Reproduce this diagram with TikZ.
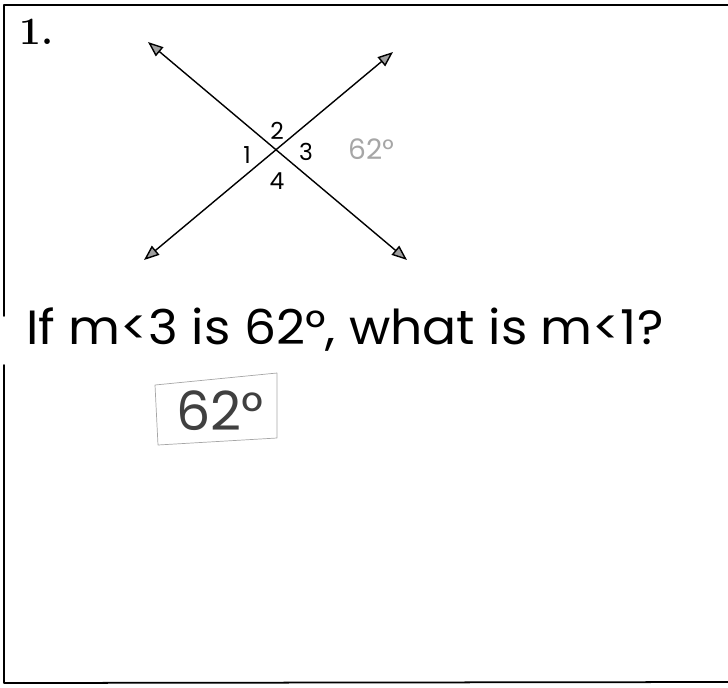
\documentclass[tikz,border=0pt]{standalone}
\usepackage{fontspec}
\newfontfamily\handfont{Poppins}
\usetikzlibrary{arrows.meta}
\begin{document}
\begin{tikzpicture}[x=0.03cm,y=-0.03cm,line cap=round,line join=round,
  rayline/.style={line width=1.2pt,{Triangle[length=13pt,width=10pt,fill=gray!75]}-{Triangle[length=13pt,width=10pt,fill=gray!75]}},
  framerule/.style={line width=1.5pt},
  anglabel/.style={font=\handfont\fontsize{20}{20}\selectfont,inner sep=0pt},
  handnote/.style={text=gray!70,font=\handfont\fontsize{24}{24}\selectfont,inner sep=0pt}]
  \useasboundingbox (0,0) rectangle (728,687);
  % frame of the sheet
  \draw[framerule] (4,316) -- (4,5) -- (728,5);
  \draw[framerule] (4,365) -- (4,683) -- (728,682);
  \node[anchor=north west,inner sep=0pt,font=\fontsize{33}{33}\selectfont\bfseries] (num) at (19,19) {1.};
  % the two crossing lines
  \coordinate (ul) at (148,42);
  \coordinate (lr) at (407,260);
  \coordinate (ll) at (144,260);
  \coordinate (ur) at (393,52);
  \draw[rayline] (ul) -- (lr);
  \draw[rayline] (ll) -- (ur);
  \node[anglabel] (a2) at (277,131) {2};
  \node[anglabel] (a1) at (247,155) {1};
  \node[anglabel] (a3) at (306,152) {3};
  \node[anglabel] (a4) at (277,181) {4};
  \node[handnote] (deg) at (371,149) {62°};
  % question and answer
  \node[anchor=west,inner sep=0pt,xscale=1.05,font=\handfont\fontsize{41}{41}\selectfont] (question) at (26,330) {If m<3 is 62°, what is m<1?};
  \draw[gray!70,line width=0.6pt] (155,385) -- (277,373) -- (277,438) -- (158,445) -- cycle;
  \node[inner sep=0pt,text=black!75,font=\handfont\fontsize{46}{46}\selectfont] (answer) at (220,411) {62°};
\end{tikzpicture}
\end{document}
